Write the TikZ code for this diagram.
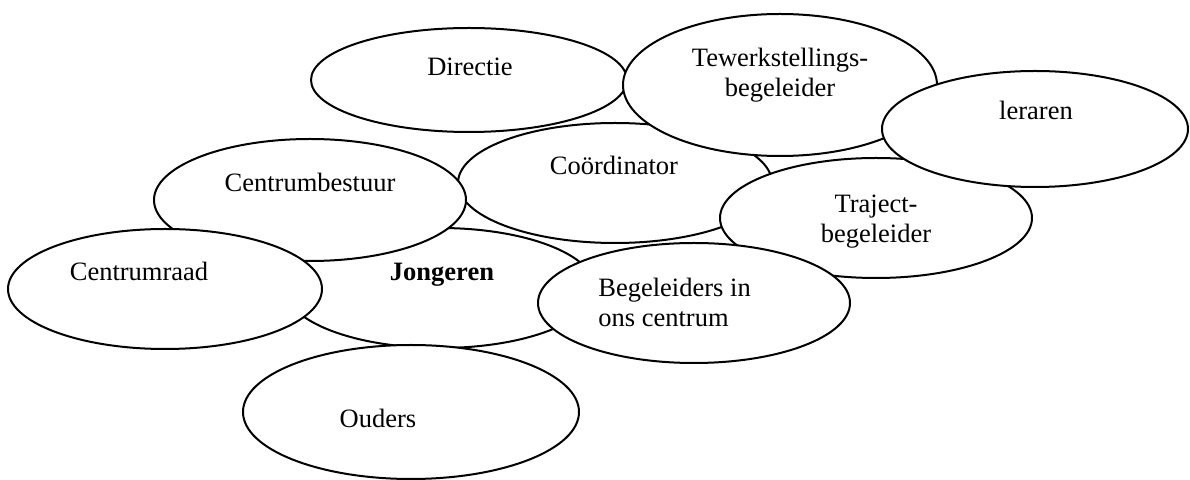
\documentclass[tikz,border=0pt]{standalone}
\usepackage{fontspec}
\setmainfont{Liberation Serif}
\usetikzlibrary{shapes.geometric}
\begin{document}
\begin{tikzpicture}[x=0.5pt,y=-0.5pt,
  ell/.style={draw=black, fill=white, line width=1pt, ellipse, inner sep=0pt},
  lbl/.style={font=\fontsize{13.25}{15}\selectfont, inner sep=0pt, anchor=base}]
\useasboundingbox (0,0) rectangle (1190,480);
% ellipses, back to front
\node[ell, minimum width=158pt, minimum height=52pt] (dir) at (469,80) {};
\node[ell, minimum width=157pt, minimum height=60pt] (coo) at (615,183) {};
\node[ell, minimum width=157pt, minimum height=71pt] (tew) at (780,85) {};
\node[ell, minimum width=156pt, minimum height=60pt] (tra) at (876,218) {};
\node[ell, minimum width=153pt, minimum height=58pt] (ler) at (1035,129) {};
\node[ell, minimum width=155pt, minimum height=60pt] (jon) at (440,288) {};
\node[ell, minimum width=156pt, minimum height=61pt] (cbe) at (310,200) {};
\node[ell, minimum width=157pt, minimum height=60pt] (cra) at (165,289) {};
\node[ell, minimum width=156pt, minimum height=60pt] (beg) at (694,303) {};
\node[ell, minimum width=168pt, minimum height=67pt] (oud) at (411,412) {};
% texts
\node[lbl] (dirT) at (470,76) {Directie};
\node[lbl] (tewT1) at (780,67) {Tewerkstellings-};
\node[lbl] (tewT2) at (780,97) {begeleider};
\node[lbl] (lerT) at (1036,120) {leraren};
\node[lbl] (cooT) at (614,175) {Coördinator};
\node[lbl] (cbeT) at (310,192) {Centrumbestuur};
\node[lbl] (traT1) at (876,213) {Traject-};
\node[lbl] (traT2) at (876,243) {begeleider};
\node[lbl] (jonT) at (442,281) {\bfseries Jongeren};
\node[lbl] (craT) at (139,281) {Centrumraad};
\node[lbl, anchor=base west] (begT1) at (598,297) {Begeleiders in};
\node[lbl, anchor=base west] (begT2) at (598,327) {ons centrum};
\node[lbl] (oudT) at (378,428) {Ouders};
\end{tikzpicture}
\end{document}
